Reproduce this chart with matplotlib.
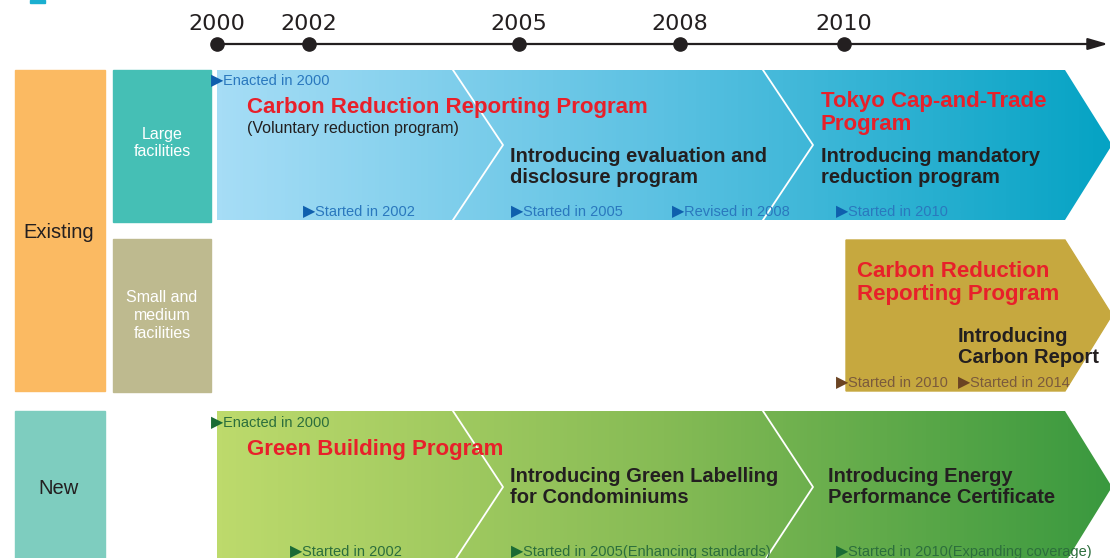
import numpy as np
import matplotlib
matplotlib.use("Agg")
import matplotlib.pyplot as plt
from matplotlib.patches import Polygon, Rectangle
from matplotlib.colors import LinearSegmentedColormap

# data
years = [2000, 2002, 2005, 2008, 2010]
categories = ["Existing", "New"]
subcategories = ["Large\nfacilities", "Small and\nmedium\nfacilities"]

large_titles = ["Carbon Reduction Reporting Program", "Tokyo Cap-and-Trade\nProgram"]
large_steps = ["Introducing evaluation and\ndisclosure program", "Introducing mandatory\nreduction program"]
large_notes = ["Started in 2002", "Started in 2005", "Revised in 2008", "Started in 2010"]

small_title = "Carbon Reduction\nReporting Program"
small_step = "Introducing\nCarbon Report"
small_notes = ["Started in 2010", "Started in 2014"]

new_title = "Green Building Program"
new_steps = ["Introducing Green Labelling\nfor Condominiums", "Introducing Energy\nPerformance Certificate"]
new_notes = ["Started in 2002", "Started in 2005(Enhancing standards)", "Started in 2010(Expanding coverage)"]

# layout (pixel positions of the years on the timeline)
year_x = {2000: 217, 2002: 309, 2005: 519, 2008: 680, 2010: 844}

SANS = ["Liberation Sans", "DejaVu Sans"]
RED = "#E8202A"
DARK = "#231F20"

fig = plt.figure(figsize=(11.1, 5.58), dpi=100)
ax = fig.add_axes([0, 0, 1, 1])


def gradient_band(pts, colors, x0, x1, y0, y1):
    patch = Polygon(pts, closed=True, facecolor="none", edgecolor="none")
    ax.add_patch(patch)
    cmap = LinearSegmentedColormap.from_list("band", colors)
    grad = np.linspace(0, 1, 256).reshape(1, -1)
    im = ax.imshow(grad, cmap=cmap, extent=(x0, x1, y1, y0), aspect="auto",
                   interpolation="bicubic", zorder=1)
    im.set_clip_path(patch)


def chevron(x, y0, y1, depth=50):
    ym = (y0 + y1) / 2
    ax.plot([x, x + depth, x], [y0, ym, y1], color="white", lw=1.3, zorder=2)


def note(x, y, s, tri_color, txt_color):
    ax.text(x, y + 1, "\u25B6", color=tri_color, fontsize=11.5, va="center", ha="left",
            family="DejaVu Sans", zorder=3)
    ax.text(x + 12, y + 1, s, color=txt_color, fontsize=10.5, va="center", ha="left",
            family=SANS, zorder=3)


def bold(x, y, s, color, size):
    ax.text(x, y + 2, s, color=color, fontsize=size, fontweight="bold", va="center",
            ha="left", family=SANS, linespacing=1.15, zorder=3)


# timeline
ax.annotate("", xy=(1108, 44), xytext=(217, 44),
            arrowprops=dict(arrowstyle="-|>,head_length=1.2,head_width=0.35",
                            color=DARK, lw=1.6, shrinkA=0, shrinkB=0))
for yr in years:
    ax.plot(year_x[yr], 44, "o", color=DARK, ms=9.5, zorder=4)
    ax.text(year_x[yr], 24, str(yr), ha="center", va="center", fontsize=16,
            color=DARK, family="DejaVu Sans")

ax.add_patch(Rectangle((30, 0), 15, 3, color="#1AAFD0"))

# left category boxes
ax.add_patch(Rectangle((15, 70), 90, 321, color="#FBBA62"))
ax.text(59, 232, categories[0], ha="center", va="center", fontsize=14.5, color=DARK, family=SANS)
ax.add_patch(Rectangle((15, 411), 90, 150, color="#7ECDBF"))
ax.text(59, 489, categories[1], ha="center", va="center", fontsize=14.5, color=DARK, family=SANS)
ax.add_patch(Rectangle((113, 70), 98, 152, color="#45BFB5"))
ax.text(162, 143, subcategories[0], ha="center", va="center", fontsize=11.5, color="white",
        family=SANS, linespacing=1.25)
ax.add_patch(Rectangle((113, 239), 98, 153, color="#BEBA8F"))
ax.text(162, 316, subcategories[1], ha="center", va="center", fontsize=11.5, color="white",
        family=SANS, linespacing=1.25)

# large facilities band
blue_pts = [(217, 70), (1065, 70), (1112, 145), (1065, 220), (217, 220)]
gradient_band(blue_pts, ["#A6DDF6", "#5BC1E2", "#05A3C4"], 217, 1112, 70, 220)
chevron(453, 70, 220)
chevron(763, 70, 220)
note(211, 80, "Enacted in 2000", "#0F5FAD", "#2A78BE")
bold(247, 105, large_titles[0], RED, 16)
ax.text(247, 128, "(Voluntary reduction program)", color=DARK, fontsize=11.5, va="center",
        family=SANS, zorder=3)
bold(510, 165, large_steps[0], DARK, 14.5)
bold(821, 111, large_titles[1], RED, 16)
bold(821, 165, large_steps[1], DARK, 14.5)
for xx, s in zip([303, 511, 672, 836], large_notes):
    note(xx, 211, s, "#0F5FAD", "#2A78BE")

# small and medium band
gold_pts = [(846, 240), (1065, 240), (1112, 315), (1065, 391), (846, 391)]
ax.add_patch(Polygon(gold_pts, closed=True, color="#C6A83F", zorder=1))
bold(857, 281, small_title, RED, 16)
bold(958, 345, small_step, DARK, 14.5)
note(836, 382, small_notes[0], "#6B4423", "#7A5A3C")
note(958, 382, small_notes[1], "#6B4423", "#7A5A3C")

# new buildings band
green_pts = [(217, 411), (1065, 411), (1112, 487), (1065, 563), (217, 563)]
gradient_band(green_pts, ["#BDDA6C", "#86BB55", "#3A993F"], 217, 1112, 411, 563)
chevron(453, 411, 563)
chevron(763, 411, 563)
note(211, 422, "Enacted in 2000", "#1A6B35", "#2C6E3C")
bold(247, 448, new_title, RED, 16)
bold(510, 485, new_steps[0], DARK, 14.5)
bold(828, 485, new_steps[1], DARK, 14.5)
for xx, s in zip([290, 511, 836], new_notes):
    note(xx, 551, s, "#1A6B35", "#2C6E3C")

ax.set_xlim(0, 1110)
ax.set_ylim(558, 0)
ax.axis("off")
fig.savefig("out.png", dpi=100)
